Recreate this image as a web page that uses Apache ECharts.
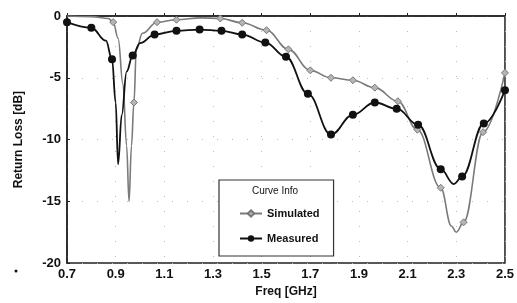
<!DOCTYPE html>
<html>
<head>
<meta charset="utf-8">
<script src="https://cdn.jsdelivr.net/npm/echarts@6/dist/echarts.min.js"></script>
<style>
  html, body { margin: 0; padding: 0; background: #fff; }
  #chart { width: 517px; height: 303px; }
</style>
</head>
<body>
<div id="chart"></div>
<script>
// values (GHz, dB)
var simFreq = [0.70, 0.80, 0.87, 0.89, 0.91, 0.93, 0.945, 0.955, 0.965, 0.975, 0.985, 1.01, 1.07, 1.15, 1.25, 1.33, 1.42, 1.52, 1.61, 1.70, 1.785, 1.875, 1.965, 2.06, 2.14, 2.236, 2.28, 2.30, 2.33, 2.41, 2.50];
var simDb   = [0.0, -0.05, -0.2, -0.5, -1.8, -5.5, -10.5, -15.0, -10.5, -7.0, -2.7, -1.4, -0.5, -0.3, -0.15, -0.2, -0.55, -1.15, -2.7, -4.4, -5.0, -5.2, -5.8, -6.9, -9.2, -13.9, -17.0, -17.5, -16.7, -9.4, -4.6];
var simMarks = [3, 9, 12, 13, 15, 16, 17, 18, 19, 20, 21, 22, 23, 24, 25, 28, 29, 30];

var measFreq = [0.70, 0.80, 0.86, 0.885, 0.90, 0.91, 0.925, 0.945, 0.97, 1.00, 1.06, 1.15, 1.245, 1.335, 1.42, 1.515, 1.60, 1.69, 1.785, 1.875, 1.965, 2.055, 2.143, 2.236, 2.29, 2.324, 2.413, 2.50];
var measDb   = [-0.5, -0.95, -2.0, -3.5, -7.0, -12.0, -8.0, -4.5, -3.2, -2.2, -1.5, -1.2, -1.1, -1.2, -1.5, -2.15, -3.3, -6.3, -9.6, -8.0, -7.0, -7.5, -8.8, -12.4, -13.6, -13.0, -8.7, -6.0];
var measMarks = [0, 1, 3, 8, 10, 11, 12, 13, 14, 15, 16, 17, 18, 19, 20, 21, 22, 23, 25, 26, 27];

var seriesNames = ['Simulated', 'Measured'];

function pairs(xs, ys) {
  return xs.map(function (x, i) { return [x, ys[i]]; });
}

var chart = echarts.init(document.getElementById('chart'));

var axisFont = { color: '#111', fontFamily: 'Liberation Sans, Arial', fontWeight: 'bold', fontSize: 13 };

var option = {
  animation: false,
  backgroundColor: '#fff',
  grid: {
    left: 67, right: 11, top: 16, bottom: 36,
    show: true, borderColor: '#222', borderWidth: 1.5
  },
  xAxis: {
    type: 'value',
    min: 0.7, max: 2.5, interval: 0.2,
    name: 'Freq [GHz]',
    nameLocation: 'middle',
    nameGap: 22,
    nameTextStyle: { color: '#111', fontFamily: 'Liberation Sans, Arial', fontWeight: 'bold', fontSize: 12 },
    axisLine: { lineStyle: { color: '#222', width: 1.5 } },
    axisTick: { inside: true, length: 3, lineStyle: { color: '#222' } },
    axisLabel: Object.assign({ margin: 5, formatter: function (v) { return v.toFixed(1); } }, axisFont),
    splitLine: { show: true, lineStyle: { color: '#bbb', type: [1, 14], width: 1 } }
  },
  yAxis: {
    type: 'value',
    min: -20, max: 0, interval: 5,
    name: 'Return Loss [dB]',
    nameLocation: 'middle',
    nameGap: 42,
    nameTextStyle: { color: '#111', fontFamily: 'Liberation Sans, Arial', fontWeight: 'bold', fontSize: 12 },
    axisLine: { lineStyle: { color: '#222', width: 1.5 } },
    axisTick: { inside: true, length: 3, lineStyle: { color: '#222' } },
    axisLabel: Object.assign({ margin: 6 }, axisFont),
    splitLine: { show: true, lineStyle: { color: '#bbb', type: [1, 14], width: 1 } }
  },
  legend: {
    data: seriesNames,
    orient: 'vertical',
    left: 219, top: 180,
    width: 113,
    padding: [28, 14, 12, 20],
    itemGap: 14,
    itemWidth: 22, itemHeight: 8,
    borderColor: '#333', borderWidth: 1.2,
    backgroundColor: '#fff',
    textStyle: { color: '#111', fontFamily: 'Liberation Sans, Arial', fontWeight: 'bold', fontSize: 11 }
  },
  graphic: [
    { type: 'text', left: 252, top: 186, z: 100, style: { text: 'Curve Info', fill: '#111', font: '10px Liberation Sans, Arial' } },
    { type: 'circle', shape: { cx: 16, cy: 271, r: 1.5 }, style: { fill: '#111' } }
  ],
  series: [
    {
      name: seriesNames[0],
      type: 'line',
      data: pairs(simFreq, simDb),
      smooth: 0.4,
      smoothMonotone: 'x',
      showAllSymbol: true,
      symbol: 'diamond',
      symbolSize: function (v, p) { return simMarks.indexOf(p.dataIndex) >= 0 ? 7 : 0; },
      lineStyle: { color: '#7a7a7a', width: 1.6 },
      itemStyle: { color: '#b5b5b5', borderColor: '#777', borderWidth: 1 },
      z: 3
    },
    {
      name: seriesNames[1],
      type: 'line',
      data: pairs(measFreq, measDb),
      smooth: 0.4,
      smoothMonotone: 'x',
      showAllSymbol: true,
      symbol: 'circle',
      symbolSize: function (v, p) { return measMarks.indexOf(p.dataIndex) >= 0 ? 8 : 0; },
      lineStyle: { color: '#111', width: 1.8 },
      itemStyle: { color: '#111' },
      z: 4
    }
  ]
};

chart.setOption(option);
</script>
</body>
</html>
